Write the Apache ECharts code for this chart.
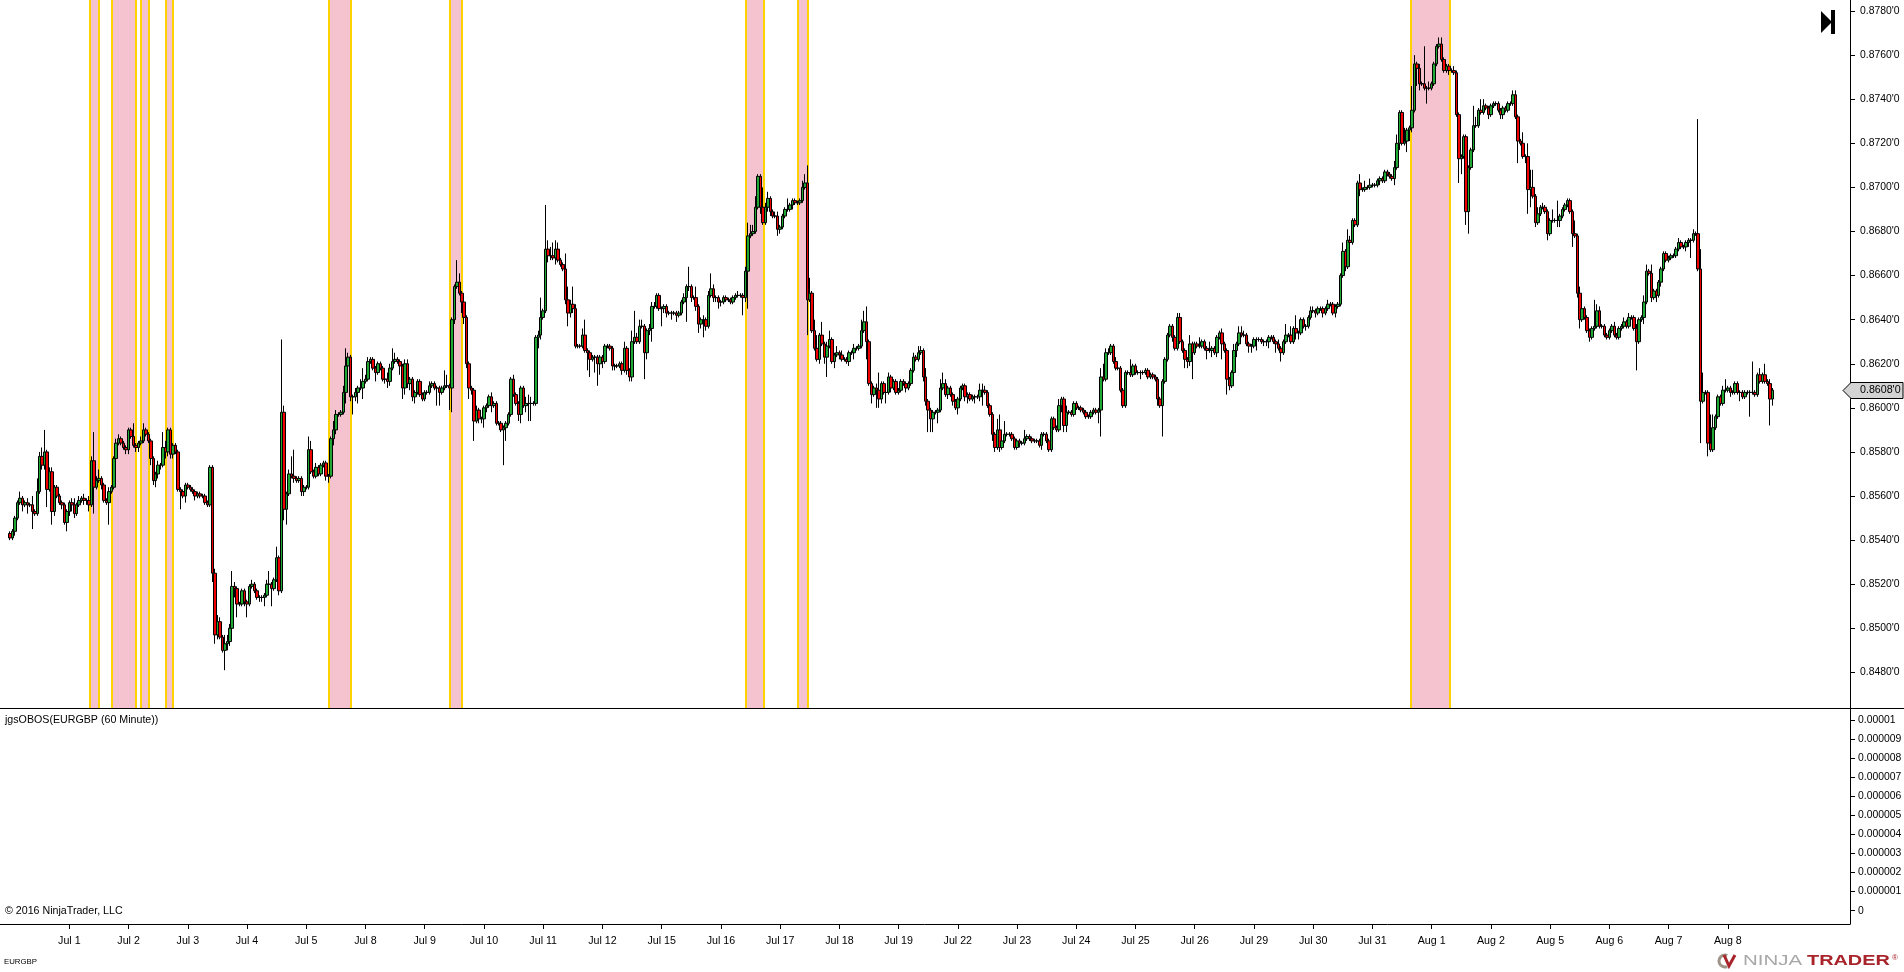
<!DOCTYPE html>
<html>
<head>
<meta charset="utf-8">
<title>EURGBP</title>
<script src="https://cdn.jsdelivr.net/npm/echarts@6/dist/echarts.min.js"></script>
<style>
html,body{margin:0;padding:0;background:#fff;}
#chart{width:1904px;height:972px;}
</style>
</head>
<body>
<div id="chart"></div>
<script>
// 60 minute bars, one row per 24 bars. values in pips (8541 = 0.8541)
var slotCount = 750;
var firstBar = 4;
var firstOpen = 8543;
var closes = [
8541,8544,8550,8557,8559,8556,8557,8556,8556,8553,8552,8562,8578,8574,8580,8563,8571,8553,8564,8560,8557,8556,8548,8553,
8557,8556,8552,8556,8558,8559,8558,8558,8556,8576,8564,8567,8568,8565,8558,8557,8562,8564,8577,8584,8586,8584,8582,8581,
8590,8587,8583,8582,8584,8585,8590,8588,8585,8577,8567,8570,8574,8574,8582,8580,8590,8579,8583,8580,8563,8562,8560,8565,
8564,8563,8562,8560,8561,8560,8560,8557,8556,8573,8525,8497,8503,8496,8490,8493,8494,8500,8519,8518,8511,8511,8517,8512,
8511,8519,8520,8517,8514,8514,8514,8515,8520,8520,8518,8522,8532,8517,8598,8554,8561,8570,8569,8568,8567,8568,8562,8564,
8564,8581,8571,8569,8573,8570,8574,8575,8569,8569,8586,8590,8597,8597,8598,8607,8619,8623,8605,8605,8607,8609,8609,8612,
8613,8621,8622,8618,8616,8620,8618,8613,8613,8612,8618,8621,8622,8621,8619,8609,8620,8611,8613,8605,8607,8612,8606,8604,
8607,8607,8610,8611,8609,8609,8607,8609,8610,8610,8609,8640,8655,8657,8652,8648,8641,8620,8609,8608,8594,8599,8595,8595,
8600,8601,8605,8601,8602,8593,8593,8590,8591,8593,8597,8613,8606,8602,8597,8609,8601,8602,8602,8602,8602,8632,8633,8641,
8644,8672,8669,8669,8668,8672,8667,8665,8663,8649,8643,8647,8645,8628,8628,8628,8633,8626,8625,8622,8623,8623,8620,8623,
8621,8628,8628,8627,8619,8619,8619,8620,8617,8627,8617,8614,8630,8632,8630,8637,8637,8625,8635,8636,8646,8646,8651,8645,
8645,8646,8643,8643,8643,8643,8642,8643,8648,8650,8655,8655,8650,8650,8646,8638,8640,8640,8637,8651,8654,8650,8650,8648,
8648,8650,8649,8649,8648,8650,8651,8651,8651,8650,8662,8678,8679,8680,8691,8705,8691,8684,8691,8695,8689,8687,8687,8681,
8682,8687,8690,8690,8692,8694,8693,8693,8694,8700,8702,8649,8652,8635,8627,8622,8633,8629,8623,8628,8631,8621,8624,8625,
8624,8622,8622,8621,8625,8625,8627,8627,8628,8635,8639,8630,8611,8606,8609,8608,8604,8611,8607,8607,8614,8609,8612,8607,
8608,8612,8611,8609,8611,8617,8623,8622,8625,8626,8614,8603,8599,8595,8598,8598,8599,8609,8611,8606,8609,8606,8603,8600,
8604,8609,8610,8605,8606,8604,8605,8605,8605,8608,8608,8607,8601,8597,8588,8582,8590,8582,8585,8588,8588,8588,8586,8582,
8585,8584,8584,8586,8587,8586,8585,8585,8585,8583,8588,8588,8585,8581,8595,8591,8590,8601,8604,8592,8598,8598,8597,8602,
8600,8600,8599,8598,8596,8596,8598,8599,8598,8599,8614,8613,8625,8625,8628,8621,8618,8618,8608,8601,8616,8616,8615,8619,
8616,8616,8616,8616,8617,8614,8615,8614,8613,8604,8601,8612,8622,8633,8637,8632,8627,8641,8630,8626,8622,8621,8629,8625,
8629,8628,8628,8630,8627,8626,8626,8627,8625,8632,8634,8629,8626,8613,8610,8616,8626,8629,8634,8633,8633,8629,8628,8628,
8631,8631,8631,8630,8630,8630,8632,8632,8630,8629,8627,8625,8630,8633,8633,8630,8636,8634,8634,8640,8637,8637,8641,8644,
8644,8643,8645,8645,8643,8645,8647,8647,8643,8646,8647,8660,8671,8664,8676,8675,8685,8683,8702,8699,8699,8700,8700,8701,
8701,8701,8703,8704,8703,8707,8706,8705,8704,8709,8720,8734,8720,8721,8726,8727,8735,8756,8754,8747,8747,8745,8745,8745,
8747,8756,8764,8765,8758,8753,8755,8753,8753,8752,8733,8713,8714,8723,8689,8709,8717,8728,8728,8735,8734,8737,8736,8733,
8737,8738,8738,8735,8733,8736,8735,8738,8738,8742,8732,8721,8720,8714,8714,8699,8700,8696,8684,8688,8691,8691,8689,8679,
8685,8685,8685,8685,8687,8690,8692,8694,8689,8679,8678,8652,8640,8645,8641,8635,8632,8636,8637,8644,8637,8637,8633,8632,
8635,8637,8633,8632,8636,8637,8639,8637,8641,8641,8636,8630,8640,8641,8648,8662,8661,8650,8653,8651,8657,8663,8670,8667,
8668,8669,8669,8672,8675,8673,8673,8675,8676,8676,8679,8679,8663,8603,8607,8607,8584,8581,8591,8596,8605,8602,8608,8608,
8609,8607,8607,8611,8607,8607,8605,8607,8607,8607,8607,8606,8615,8612,8615,8612,8611,8604,8608
];
// wick length above the body, pips
var upperWicks = [
1,1,1,1,3,1,1,2,1,4,1,6,2,4,10,1,2,2,1,1,1,1,1,1,
1,2,3,1,2,1,2,1,2,2,13,2,4,1,1,1,2,1,1,2,2,1,1,1,
1,1,6,1,1,2,3,1,1,1,1,1,2,1,7,3,1,1,1,1,1,1,1,1,
1,1,1,1,1,1,1,1,1,1,1,2,3,2,1,4,3,2,7,2,1,1,1,1,
1,1,2,1,1,1,1,1,2,6,1,1,5,1,33,3,1,2,8,12,1,1,1,1,
1,6,4,1,2,1,1,1,1,1,1,4,2,1,1,3,8,2,1,1,2,1,4,6,
2,2,1,1,1,1,1,1,1,3,2,6,3,1,1,1,2,2,1,1,1,1,1,1,
1,1,2,1,1,1,1,1,7,5,1,1,1,10,4,1,1,1,1,1,1,2,1,1,
1,1,1,2,1,1,1,1,1,1,1,1,2,1,1,1,1,3,4,3,1,1,2,9,
1,20,4,4,6,4,3,1,1,7,6,2,8,2,1,1,3,7,1,1,1,1,1,1,
1,1,1,1,1,1,1,1,1,3,1,1,5,12,2,3,3,1,1,2,2,2,1,1,
1,1,1,1,1,1,1,1,1,2,1,9,1,1,5,1,1,2,1,2,7,2,1,1,
1,1,1,1,1,1,1,2,1,1,2,6,4,3,5,1,1,9,2,3,1,1,2,2,
1,1,1,5,1,1,1,1,1,3,4,8,7,1,5,6,1,6,1,2,4,1,1,3,
1,2,1,1,1,1,2,1,1,5,5,7,1,1,1,2,8,1,1,1,2,1,1,1,
1,1,1,1,1,1,2,1,3,2,1,4,1,1,1,1,1,4,5,2,1,1,1,1,
1,1,1,1,1,1,1,1,1,3,3,2,1,1,1,1,5,7,5,6,1,1,1,1,
1,1,1,4,1,1,1,1,1,1,1,1,1,1,1,1,1,3,1,1,3,1,1,1,
1,1,1,1,1,1,1,1,1,1,4,6,2,2,1,1,2,1,1,1,1,1,6,1,
1,1,1,1,1,1,1,1,1,1,1,1,1,1,1,1,1,2,2,1,1,1,4,1,
1,1,4,1,1,1,4,1,1,1,1,2,1,1,1,1,3,1,3,3,2,1,1,1,
1,1,1,1,1,1,1,1,1,1,2,1,1,5,1,4,1,6,1,1,1,1,1,2,
2,1,1,1,1,1,2,1,1,1,1,1,4,1,5,2,1,1,1,4,1,3,1,3,
1,1,1,1,1,1,1,1,1,3,4,1,1,6,1,1,11,4,1,2,1,17,1,3,
1,1,1,3,3,1,1,1,1,2,1,1,1,1,1,1,1,9,4,1,5,3,1,1,
1,1,1,1,1,1,1,1,1,2,2,1,1,5,1,6,8,8,1,3,1,2,1,1,
1,5,1,9,1,1,1,1,1,1,6,1,3,2,1,1,1,1,12,3,2,1,1,1,
1,1,2,1,1,1,2,1,2,1,1,2,1,1,3,3,1,4,1,1,1,1,1,1,
1,1,1,1,2,1,1,1,1,1,2,1,52,9,9,1,1,13,6,1,1,1,2,5,
1,1,1,1,1,1,1,1,1,1,14,1,1,3,1,5,1,2,1
];
// wick length below the body, pips
var lowerWicks = [
1,1,2,1,1,3,1,4,1,8,1,1,1,2,2,8,1,6,2,1,1,2,1,4,
2,3,2,1,1,1,2,2,3,1,12,1,1,2,1,1,10,1,1,1,1,1,1,2,
2,1,1,2,2,1,1,1,1,3,2,3,2,2,1,3,2,2,2,1,1,8,1,3,
1,1,1,2,1,1,1,1,1,1,4,4,2,1,1,9,3,2,1,4,6,1,1,2,
6,1,1,1,1,2,2,4,1,1,8,1,1,2,1,5,7,1,1,2,1,1,2,2,
1,1,1,1,1,1,1,1,2,3,1,3,2,1,1,1,5,1,2,8,2,5,1,5,
1,1,1,1,4,1,1,1,2,3,2,1,1,1,4,5,3,2,3,2,3,1,1,1,
1,1,1,1,1,8,6,1,1,1,10,11,2,1,1,5,3,2,5,2,9,1,2,2,
4,2,1,3,1,1,1,1,16,6,1,1,1,1,3,4,1,3,8,8,1,1,5,2,
1,1,3,2,1,3,1,1,1,2,6,2,2,1,1,1,1,1,8,8,1,7,10,5,
3,1,1,1,2,2,1,1,2,1,2,2,2,1,1,1,1,12,3,2,6,1,1,1,
8,2,2,1,3,1,3,1,1,1,11,2,2,1,2,4,2,8,2,1,1,2,2,3,
2,1,1,1,1,1,1,1,1,8,2,17,1,1,1,1,3,1,1,2,2,1,1,3,
2,1,1,1,1,2,1,1,1,1,1,16,1,1,1,1,2,1,3,9,1,1,3,1,
2,1,1,1,2,1,3,1,1,1,1,8,1,4,1,8,4,2,1,5,1,2,1,1,
1,1,1,2,1,1,1,1,1,1,2,2,10,6,6,1,5,1,1,1,2,1,2,1,
3,1,1,2,3,1,1,3,1,2,7,1,1,1,3,2,1,2,1,1,1,1,1,1,
1,2,1,1,1,1,1,1,1,1,2,1,1,1,1,1,1,1,3,3,3,1,1,1,
1,1,1,1,1,1,1,1,1,5,12,1,1,1,1,1,1,1,1,1,1,1,1,1,
1,1,3,1,1,1,1,1,1,3,1,14,1,1,1,2,1,1,1,1,4,3,2,12,
1,1,1,1,1,4,1,3,1,2,1,7,1,7,2,1,1,3,1,1,1,1,3,3,
1,5,1,1,2,2,3,1,1,4,1,4,1,1,1,1,1,3,3,1,1,2,1,1,
1,2,1,1,2,1,1,1,1,2,1,1,1,2,1,1,1,1,1,3,1,1,1,1,
1,1,1,2,1,1,1,1,1,3,1,3,1,1,5,5,2,1,8,3,1,1,7,1,
1,1,1,1,1,1,1,2,1,1,1,11,7,1,6,10,1,1,1,1,1,1,1,2,
1,1,1,1,2,2,1,1,1,1,1,10,1,1,3,11,8,1,2,1,1,1,1,3,
1,1,1,3,3,1,1,1,1,6,1,2,4,1,1,1,2,1,1,1,1,1,1,1,
1,1,1,1,1,1,1,1,1,1,1,13,1,1,3,1,1,2,1,3,1,2,1,1,
1,1,1,1,1,1,1,2,2,8,1,1,1,19,1,1,6,1,1,1,1,1,1,1,
1,2,1,1,1,4,1,1,1,11,1,1,1,1,1,1,1,12,3
];
var lastPrice = 0.8608;
var dayLabels = ['Jul 1','Jul 2','Jul 3','Jul 4','Jul 5','Jul 8','Jul 9','Jul 10','Jul 11','Jul 12','Jul 15','Jul 16','Jul 17','Jul 18','Jul 19','Jul 22','Jul 23','Jul 24','Jul 25','Jul 26','Jul 29','Jul 30','Jul 31','Aug 1','Aug 2','Aug 5','Aug 6','Aug 7','Aug 8'];
var firstDayBar = 28;
var barsPerDay = 24;
var priceTicks = [0.848,0.85,0.852,0.854,0.856,0.858,0.86,0.862,0.864,0.866,0.868,0.87,0.872,0.874,0.876,0.878];
var oscTicks = [0,0.000001,0.000002,0.000003,0.000004,0.000005,0.000006,0.000007,0.000008,0.000009,0.00001];
// overbought / oversold zones, in bar slots
var zoneStarts = [36.9,45.8,57.5,67.7,133.7,182.8,302.7,323.7,572.1];
var zoneEnds = [40.5,55.5,60.8,70.5,142.6,187.6,309.9,327.8,587.9];

var categories = [];
for (var i = 0; i < slotCount; i++) {
	categories.push('');
}
dayLabels.forEach(function(label, index) {
	categories[firstDayBar + index * barsPerDay] = label;
});

var candles = [];
for (var i = 0; i < firstBar; i++) {
	candles.push(['-', '-', '-', '-']);
}
closes.forEach(function(close, index) {
	var open = index == 0 ? firstOpen : closes[index - 1];
	var high = Math.max(open, close) + upperWicks[index];
	var low = Math.min(open, close) - lowerWicks[index];
	candles.push([open / 10000, close / 10000, low / 10000, high / 10000]);
});

var zones = zoneStarts.map(function(start, index) {
	return [start, zoneEnds[index]];
});

function isDayBar(index) {
	return categories[index] !== '';
}

var axisFont = {color: '#000', fontFamily: '"Liberation Sans", Arial', fontSize: 10.67};

function renderZone(params, api) {
	var left = Math.round(api.coord([api.value(0), 0])[0]);
	var right = Math.round(api.coord([api.value(1), 0])[0]);
	var box = params.coordSys;
	return {
		type: 'group',
		children: [
			{type: 'rect', shape: {x: left, y: box.y, width: right - left, height: box.height}, style: {fill: '#f5c3d0'}},
			{type: 'rect', shape: {x: left - 1, y: box.y, width: 2, height: box.height}, style: {fill: '#ffd200'}},
			{type: 'rect', shape: {x: right - 1, y: box.y, width: 2, height: box.height}, style: {fill: '#ffd200'}}
		]
	};
}

var option = {
	animation: false,
	backgroundColor: '#fff',
	grid: [
		{left: -1, top: 0, width: 1851, height: 708, outerBoundsMode: 'none'},
		{left: -1, top: 708, width: 1851, height: 216, outerBoundsMode: 'none'}
	],
	xAxis: [
		{type: 'category', gridIndex: 0, data: categories, show: false},
		{
			type: 'category',
			gridIndex: 1,
			data: categories,
			axisLine: {show: true, onZero: false, lineStyle: {color: '#000', width: 1}},
			axisTick: {show: true, length: 5, alignWithLabel: true, interval: isDayBar, lineStyle: {color: '#000'}},
			axisLabel: {show: true, interval: isDayBar, margin: 12, hideOverlap: false, color: axisFont.color, fontFamily: axisFont.fontFamily, fontSize: axisFont.fontSize}
		},
		{type: 'value', gridIndex: 0, min: 0, max: slotCount, show: false}
	],
	yAxis: [
		{
			type: 'value',
			gridIndex: 0,
			position: 'right',
			min: 0.846385,
			max: 0.8785,
			scale: true,
			splitLine: {show: false},
			axisLine: {show: true, onZero: false, lineStyle: {color: '#000', width: 1}},
			axisTick: {show: true, length: 5, customValues: priceTicks, lineStyle: {color: '#000'}},
			axisLabel: {
				show: true,
				customValues: priceTicks,
				margin: 10,
				color: axisFont.color,
				fontFamily: axisFont.fontFamily,
				fontSize: 10.4,
				formatter: function(value) {
					return value.toFixed(4) + "'0";
				}
			}
		},
		{
			type: 'value',
			gridIndex: 1,
			position: 'right',
			min: -0.0000007,
			max: 0.00001063,
			splitLine: {show: false},
			axisLine: {show: true, onZero: false, lineStyle: {color: '#000', width: 1}},
			axisTick: {show: true, length: 5, customValues: oscTicks, lineStyle: {color: '#000'}},
			axisLabel: {
				show: true,
				customValues: oscTicks,
				margin: 8,
				color: axisFont.color,
				fontFamily: axisFont.fontFamily,
				fontSize: 10.4,
				formatter: function(value) {
					return String(+value.toFixed(6));
				}
			}
		}
	],
	series: [
		{
			name: 'zones',
			type: 'custom',
			xAxisIndex: 2,
			yAxisIndex: 0,
			z: 1,
			silent: true,
			renderItem: renderZone,
			encode: {x: [0, 1]},
			data: zones
		},
		{
			name: 'EURGBP',
			type: 'candlestick',
			xAxisIndex: 0,
			yAxisIndex: 0,
			z: 2,
			large: false,
			progressive: 0,
			barWidth: 3,
			itemStyle: {
				color: '#1fa833',
				color0: '#f00000',
				borderColor: '#000',
				borderColor0: '#000',
				borderColorDoji: '#000',
				borderWidth: 1
			},
			data: candles
		},
		{name: 'jgsOBOS', type: 'line', xAxisIndex: 1, yAxisIndex: 1, data: []}
	],
	graphic: []
};

var myChart = echarts.init(document.getElementById('chart'));
myChart.setOption(option);

// things round the plot: pane line, notes, go-to-end button, last price flag, logo
var lastY = Math.round(myChart.convertToPixel({yAxisIndex: 0}, lastPrice)) + 0.5;
var labelFont = '10.67px "Liberation Sans", Arial';
myChart.setOption({
	graphic: [
		{type: 'line', shape: {x1: 0, y1: 708.5, x2: 1904, y2: 708.5}, style: {stroke: '#000', lineWidth: 1}, z: 10},
		{type: 'text', x: 5, y: 720, style: {text: 'jgsOBOS(EURGBP (60 Minute))', font: labelFont, fill: '#000', textVerticalAlign: 'middle'}},
		{type: 'text', x: 5, y: 911, style: {text: '\u00a9 2016 NinjaTrader, LLC', font: labelFont, fill: '#000', textVerticalAlign: 'middle'}},
		{type: 'text', x: 4, y: 962, style: {text: 'EURGBP', font: '7.8px "Liberation Sans", Arial', fill: '#000', textVerticalAlign: 'middle'}},
		{type: 'polygon', shape: {points: [[1821, 11], [1832, 22], [1821, 33]]}, style: {fill: '#000'}},
		{type: 'rect', shape: {x: 1831, y: 10, width: 4, height: 24}, style: {fill: '#000'}},
		{type: 'polygon', shape: {points: [[1843, lastY], [1851, lastY - 8], [1903, lastY - 8], [1903, lastY + 8], [1851, lastY + 8]]}, style: {fill: '#d3d3d3', stroke: '#000', lineWidth: 1}, z: 20},
		{type: 'text', x: 1860, y: lastY, z: 21, style: {text: lastPrice.toFixed(4) + "'0", font: labelFont, fill: '#000', textVerticalAlign: 'middle'}},
		{type: 'arc', shape: {cx: 1725, cy: 961, r: 6, startAngle: 1.2, endAngle: 5.1}, style: {stroke: '#a09488', fill: null, lineWidth: 3}},
		{type: 'polyline', shape: {points: [[1724, 955], [1729, 966], [1735, 955]]}, style: {stroke: '#a8232a', fill: null, lineWidth: 3}},
		{type: 'text', x: 1743, y: 961, scaleX: 1.46, style: {text: 'NINJA', font: '14px "Liberation Sans", Arial', fill: '#a8a8a8', textVerticalAlign: 'middle'}},
		{type: 'text', x: 1807, y: 961, scaleX: 1.42, style: {text: 'TRADER', font: 'bold 14px "Liberation Sans", Arial', fill: '#a8232a', textVerticalAlign: 'middle'}},
		{type: 'text', x: 1892, y: 958, style: {text: '\u00ae', font: '8px "Liberation Sans", Arial', fill: '#a8232a', textVerticalAlign: 'middle'}}
	]
});
</script>
</body>
</html>
